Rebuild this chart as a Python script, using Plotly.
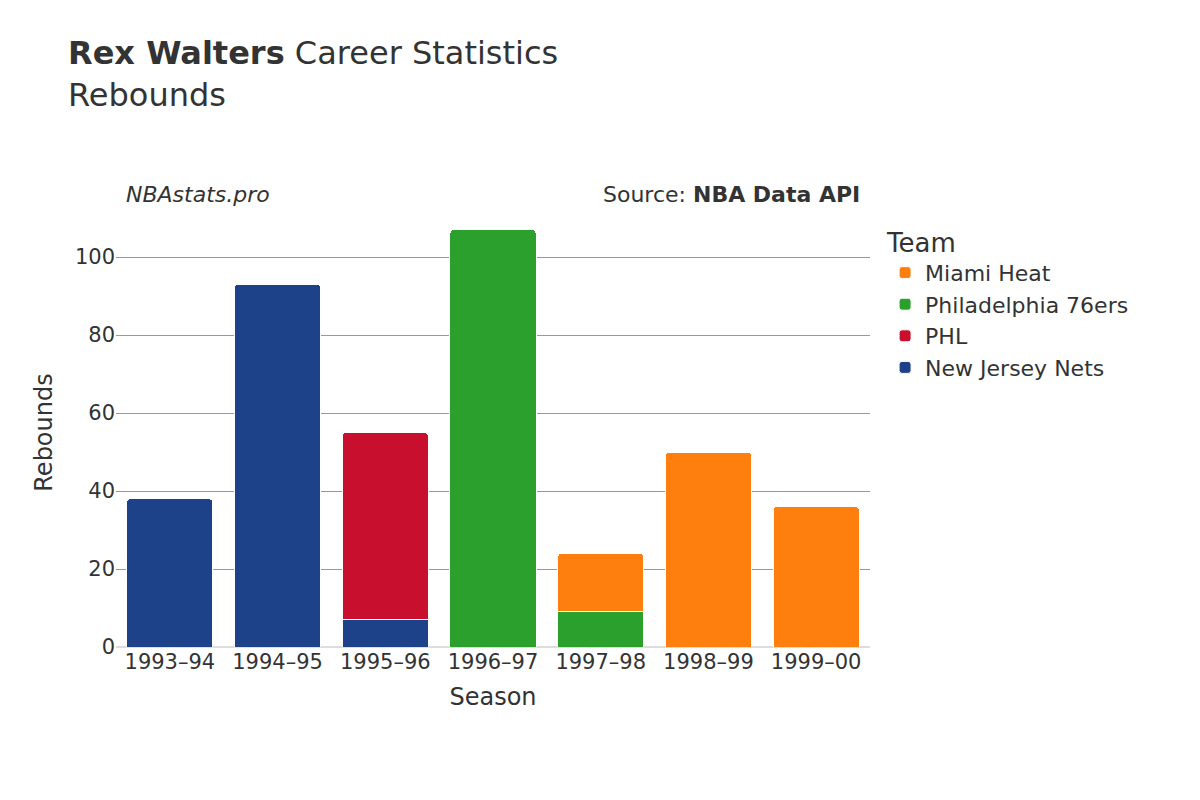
import plotly.graph_objects as go

seasons = ["1993–94","1994–95","1995–96","1996–97","1997–98","1998–99","1999–00"]
teams = ["New Jersey Nets","PHL","Philadelphia 76ers","Miami Heat"]
colors = ["#1d428a","#c8102e","#2ca02c","#ff7f0e"]
nets = [38,93,7,None,None,None,None]
phl = [None,None,48,None,None,None,None]
sixers = [None,None,None,107,9,None,None]
heat = [None,None,None,None,15,50,36]
series = [nets,phl,sixers,heat]

fig = go.Figure()
for name, vals, c in zip(teams, series, colors):
    fig.add_bar(x=seasons, y=vals, name=name, marker_color=c,
                marker_line=dict(color="white", width=1))

fig.update_layout(
    barmode="stack", barcornerradius=4, bargap=0.2,
    width=1200, height=800,
    font=dict(family="DejaVu Sans", size=20, color="#333"),
    paper_bgcolor="white", plot_bgcolor="white",
    margin=dict(l=108, r=338, t=210, b=161),
    title=dict(text="<b>Rex Walters</b> Career Statistics<br>Rebounds",
               x=0.05, xanchor="left", y=0.93, yanchor="top", font=dict(size=32)),
    legend=dict(title=dict(text="Team", font=dict(size=26)), x=1.02, y=1.0,
                yanchor="top", font=dict(size=22)),
    xaxis=dict(title=dict(text="Season", font=dict(size=24)), tickfont=dict(size=21)),
    yaxis=dict(title=dict(text="Rebounds", font=dict(size=24)), range=[0, 110],
               gridcolor="#999", tickfont=dict(size=21), dtick=20,
               zeroline=True, zerolinecolor="#ddd", zerolinewidth=2),
    annotations=[
        dict(text="<i>NBAstats.pro</i>", x=0.01, y=1.02, xref="paper", yref="paper",
             xanchor="left", yanchor="bottom", showarrow=False, font=dict(size=22)),
        dict(text="Source: <b>NBA Data API</b>", x=0.99, y=1.02, xref="paper", yref="paper",
             xanchor="right", yanchor="bottom", showarrow=False, font=dict(size=22)),
    ],
)
fig.write_html("out.html")
